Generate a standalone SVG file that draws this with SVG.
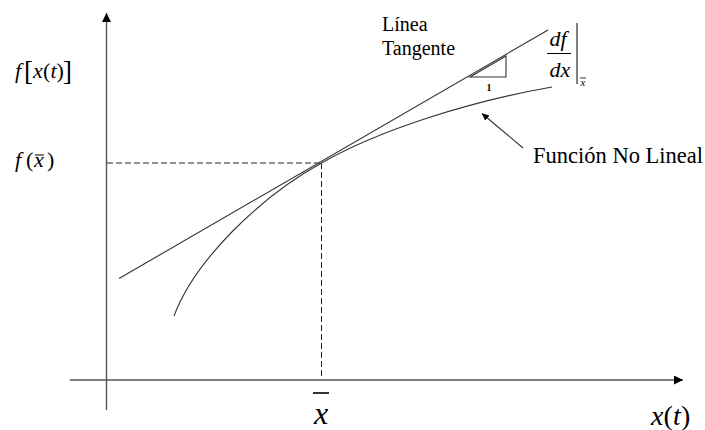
<svg xmlns="http://www.w3.org/2000/svg" width="705" height="430" viewBox="0 0 705 430">
  <defs>
    <marker id="ah" viewBox="0 0 10 10" refX="10" refY="5" markerWidth="7" markerHeight="7" markerUnits="userSpaceOnUse" orient="auto">
      <path d="M0,0 L10,5 L0,10 z" fill="#000"/>
    </marker>
    <marker id="ax" viewBox="0 0 10 10" refX="10" refY="5" markerWidth="9" markerHeight="9" markerUnits="userSpaceOnUse" orient="auto">
      <path d="M0,0 L10,5 L0,10 z" fill="#000"/>
    </marker>
  </defs>
  <rect width="705" height="430" fill="#fff"/>

  <g id="axes" stroke="#555" stroke-width="1.4" fill="none">
    <line x1="106.5" y1="410" x2="106.5" y2="13" marker-end="url(#ax)"/>
    <line x1="70" y1="380" x2="683" y2="380" marker-end="url(#ax)"/>
  </g>

  <g id="guides" stroke="#222" stroke-width="1" stroke-dasharray="6 3" fill="none">
    <line x1="107" y1="163" x2="321.5" y2="163"/>
    <line x1="321.5" y1="163" x2="321.5" y2="379"/>
  </g>

  <g id="tangent" stroke="#333" stroke-width="1.1" fill="none">
    <line x1="119" y1="278.5" x2="548" y2="30"/>
    <path d="M470,77 L506,56 L506,77 Z"/>
  </g>
  <text x="489" y="91" font-size="10" font-weight="bold" text-anchor="middle" font-family="Liberation Serif" fill="#000">1</text>

  <g id="curve" stroke="#333" stroke-width="1.1" fill="none">
    <path d="M174,316 C195,260 260,197 321.5,163 C381,129 472,101 552,87"/>
  </g>

  <g id="connectors" stroke="#333" stroke-width="1.1" fill="none">
    <line x1="523" y1="148" x2="482" y2="113.5" marker-end="url(#ah)"/>
  </g>

  <text x="382" y="31" font-size="20" font-family="Liberation Serif" fill="#000">Línea</text>
  <text x="382" y="55" font-size="20" font-family="Liberation Serif" fill="#000">Tangente</text>
  <text x="533" y="163" font-size="22.5" font-family="Liberation Serif" fill="#000">Función No Lineal</text>

  <g id="deriv">
    <text x="558" y="46" font-size="22" text-anchor="middle" font-family="Liberation Serif" font-style="italic" fill="#000">df</text>
    <line x1="547" y1="53.5" x2="571" y2="53.5" stroke="#000" stroke-width="1"/>
    <text x="560" y="77" font-size="22" text-anchor="middle" font-family="Liberation Serif" font-style="italic" fill="#000">dx</text>
    <line x1="577" y1="23" x2="577" y2="84" stroke="#000" stroke-width="1"/>
    <text x="583" y="86" font-size="11" text-anchor="middle" font-family="Liberation Serif" font-style="italic" fill="#000">x</text>
    <line x1="580" y1="78" x2="586" y2="78" stroke="#000" stroke-width="0.8"/>
  </g>

  <g id="ylabel">
    <text x="15" y="78" font-size="22" font-family="Liberation Serif" font-style="italic" fill="#000">f</text>
    <text x="24" y="80" font-size="27" font-family="Liberation Serif" fill="#000">[</text>
    <text x="33" y="78" font-size="22" font-family="Liberation Serif" font-style="italic" fill="#000">x</text>
    <text x="43" y="78" font-size="22" font-family="Liberation Serif" fill="#000">(</text>
    <text x="50.5" y="78" font-size="22" font-family="Liberation Serif" font-style="italic" fill="#000">t</text>
    <text x="56.5" y="78" font-size="22" font-family="Liberation Serif" fill="#000">)</text>
    <text x="63" y="80" font-size="27" font-family="Liberation Serif" fill="#000">]</text>
  </g>

  <g id="fxbar">
    <text x="15" y="167" font-size="22" font-family="Liberation Serif" font-style="italic" fill="#000">f</text>
    <text x="26" y="167" font-size="22" font-family="Liberation Serif" fill="#000">(</text>
    <text x="34" y="167" font-size="22" font-family="Liberation Serif" font-style="italic" fill="#000">x</text>
    <text x="47" y="167" font-size="22" font-family="Liberation Serif" fill="#000">)</text>
    <line x1="35" y1="155" x2="44" y2="155" stroke="#000" stroke-width="1"/>
  </g>

  <g id="xbar">
    <line x1="313" y1="393" x2="329" y2="393" stroke="#000" stroke-width="1.6"/>
    <text x="321" y="424" font-size="32" text-anchor="middle" font-family="Liberation Serif" font-style="italic" fill="#000">x</text>
  </g>

  <g id="xlabel">
    <text x="651" y="425" font-size="28" font-family="Liberation Serif" font-style="italic" fill="#000">x</text>
    <text x="663.5" y="425" font-size="28" font-family="Liberation Serif" fill="#000">(</text>
    <text x="673" y="425" font-size="28" font-family="Liberation Serif" font-style="italic" fill="#000">t</text>
    <text x="681" y="425" font-size="28" font-family="Liberation Serif" fill="#000">)</text>
  </g>
</svg>
